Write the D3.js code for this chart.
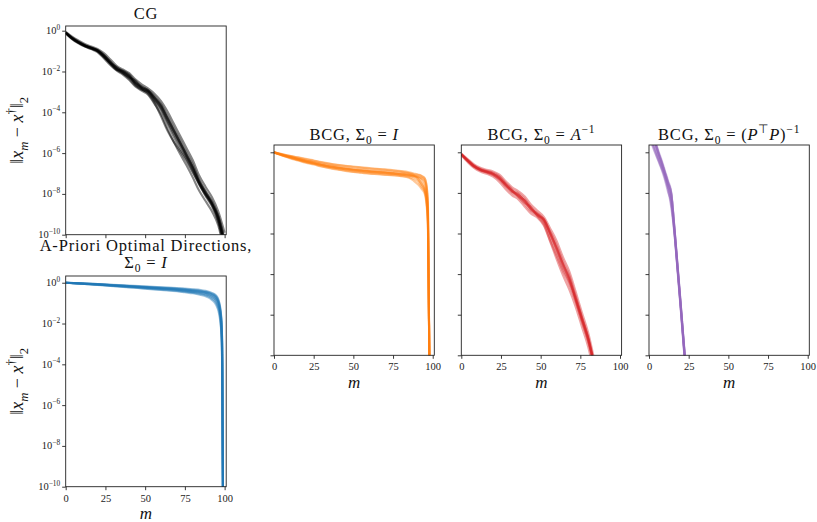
<!DOCTYPE html>
<html>
<head>
<meta charset="utf-8">
<script src="https://cdn.jsdelivr.net/npm/d3@7"></script>
<style>
  body { margin: 0; background: #fff; }
  svg { display: block; }
</style>
</head>
<body>
<svg id="chart" width="817" height="522"></svg>
<script>
// values are log10 of the error norm
const xTicks = [0, 25, 50, 75, 100];
const yTickExp = [0, -2, -4, -6, -8, -10];

const mCG = [0, 4, 8, 12, 16, 20, 24, 28, 32, 36, 40, 44, 48, 52, 56, 60, 64, 68, 72, 76, 80, 84, 88, 92, 96, 100];
const cgRuns = [
  [-0.10,-0.36,-0.56,-0.72,-0.84,-0.97,-1.22,-1.55,-1.84,-2.00,-2.22,-2.58,-2.80,-2.96,-3.30,-3.70,-4.30,-4.90,-5.50,-6.10,-6.70,-7.40,-7.95,-8.45,-9.15,-10.4],
  [-0.12,-0.40,-0.60,-0.76,-0.88,-1.02,-1.30,-1.62,-1.92,-2.10,-2.35,-2.70,-2.90,-3.05,-3.45,-3.90,-4.55,-5.20,-5.80,-6.30,-6.90,-7.55,-8.05,-8.55,-9.30,-10.6],
  [-0.08,-0.33,-0.53,-0.70,-0.82,-0.94,-1.18,-1.50,-1.80,-1.96,-2.15,-2.50,-2.74,-2.92,-3.22,-3.60,-4.15,-4.75,-5.35,-5.95,-6.55,-7.30,-7.85,-8.35,-9.05,-10.2],
  [-0.10,-0.38,-0.58,-0.74,-0.86,-1.00,-1.28,-1.58,-1.78,-2.05,-2.30,-2.45,-2.85,-3.10,-3.55,-4.20,-4.90,-5.45,-5.90,-6.40,-6.95,-7.50,-8.10,-8.60,-9.40,-10.8],
  [-0.11,-0.37,-0.57,-0.73,-0.85,-0.98,-1.25,-1.58,-1.88,-2.02,-2.25,-2.62,-2.82,-2.98,-3.35,-3.75,-4.35,-4.95,-5.55,-6.15,-6.75,-7.45,-8.00,-8.50,-9.20,-10.5],
  [-0.09,-0.35,-0.55,-0.71,-0.83,-0.96,-1.20,-1.52,-1.86,-2.08,-2.28,-2.55,-2.76,-2.94,-3.28,-3.65,-4.25,-4.85,-5.45,-6.05,-6.65,-7.35,-7.90,-8.40,-9.10,-10.3],
  [-0.13,-0.41,-0.62,-0.78,-0.90,-1.05,-1.35,-1.68,-1.95,-2.15,-2.42,-2.75,-2.95,-3.15,-3.60,-4.10,-4.80,-5.45,-6.05,-6.60,-7.20,-7.85,-8.35,-8.85,-9.55,-10.9],
  [-0.06,-0.29,-0.48,-0.65,-0.77,-0.89,-1.10,-1.40,-1.72,-1.90,-2.08,-2.40,-2.64,-2.84,-3.10,-3.45,-3.95,-4.55,-5.15,-5.75,-6.35,-7.10,-7.65,-8.15,-8.85,-9.9],
  [-0.10,-0.37,-0.58,-0.75,-0.87,-0.99,-1.24,-1.60,-1.90,-1.98,-2.20,-2.64,-2.88,-3.00,-3.40,-3.82,-4.45,-5.05,-5.62,-6.20,-6.80,-7.48,-8.02,-8.48,-9.25,-10.5]
];

const mAOD = [0, 10, 20, 30, 40, 50, 60, 70, 75, 80, 85, 88, 90, 92, 94, 95, 96, 97, 98, 98.5, 99];
const aodRuns = [
  [0.00,-0.04,-0.08,-0.13,-0.18,-0.23,-0.28,-0.33,-0.37,-0.41,-0.46,-0.50,-0.55,-0.62,-0.72,-0.82,-0.98,-1.30,-2.00,-3.50,-11],
  [0.00,-0.03,-0.06,-0.10,-0.14,-0.18,-0.22,-0.26,-0.29,-0.32,-0.36,-0.40,-0.44,-0.50,-0.58,-0.66,-0.80,-1.10,-1.80,-3.00,-11],
  [0.00,-0.05,-0.10,-0.16,-0.22,-0.28,-0.34,-0.40,-0.44,-0.49,-0.56,-0.62,-0.68,-0.78,-0.92,-1.05,-1.25,-1.60,-2.40,-4.00,-11],
  [0.00,-0.04,-0.09,-0.14,-0.20,-0.25,-0.31,-0.37,-0.41,-0.46,-0.52,-0.57,-0.62,-0.70,-0.82,-0.95,-1.15,-1.50,-2.60,-4.50,-11],
  [0.00,-0.04,-0.07,-0.11,-0.16,-0.21,-0.25,-0.30,-0.33,-0.37,-0.42,-0.46,-0.50,-0.56,-0.65,-0.74,-0.90,-1.20,-1.90,-3.20,-11],
  [0.00,-0.05,-0.09,-0.15,-0.19,-0.24,-0.29,-0.35,-0.39,-0.44,-0.49,-0.54,-0.60,-0.68,-0.80,-0.90,-1.08,-1.40,-2.20,-3.80,-11],
  [0.00,-0.03,-0.07,-0.12,-0.16,-0.20,-0.24,-0.28,-0.31,-0.35,-0.39,-0.43,-0.47,-0.53,-0.62,-0.70,-0.85,-1.15,-1.85,-3.10,-11],
  [0.00,-0.05,-0.11,-0.17,-0.23,-0.29,-0.36,-0.42,-0.47,-0.52,-0.60,-0.66,-0.73,-0.84,-1.00,-1.15,-1.35,-1.75,-2.60,-4.20,-11],
  [0.00,-0.04,-0.08,-0.12,-0.17,-0.22,-0.27,-0.32,-0.35,-0.39,-0.44,-0.48,-0.52,-0.59,-0.68,-0.78,-0.94,-1.25,-1.95,-3.40,-11]
];

const mBI = [0, 5, 10, 15, 20, 25, 30, 35, 40, 45, 50, 55, 60, 65, 70, 75, 80, 85, 88, 91, 93, 95, 96, 97, 98];
const bcgIRuns = [
  [0.00,-0.12,-0.22,-0.32,-0.42,-0.50,-0.60,-0.68,-0.74,-0.80,-0.85,-0.88,-0.92,-0.95,-0.98,-1.02,-1.06,-1.10,-1.15,-1.20,-1.30,-1.50,-1.90,-3.00,-11],
  [0.00,-0.10,-0.18,-0.26,-0.34,-0.42,-0.50,-0.57,-0.63,-0.68,-0.72,-0.76,-0.80,-0.83,-0.86,-0.90,-0.95,-1.02,-1.08,-1.12,-1.18,-1.30,-1.60,-2.60,-11],
  [-0.02,-0.15,-0.27,-0.38,-0.49,-0.58,-0.68,-0.76,-0.83,-0.90,-0.95,-0.99,-1.03,-1.06,-1.09,-1.12,-1.16,-1.22,-1.30,-1.45,-1.70,-1.95,-2.40,-3.50,-11],
  [0.00,-0.11,-0.20,-0.30,-0.40,-0.48,-0.57,-0.64,-0.70,-0.76,-0.81,-0.84,-0.88,-0.91,-0.94,-0.97,-1.00,-1.05,-1.12,-1.25,-1.40,-1.75,-2.10,-3.20,-11],
  [-0.01,-0.13,-0.24,-0.35,-0.45,-0.54,-0.64,-0.72,-0.78,-0.84,-0.89,-0.93,-0.97,-1.00,-1.03,-1.06,-1.10,-1.15,-1.18,-1.22,-1.26,-1.40,-1.70,-2.80,-11],
  [0.00,-0.12,-0.23,-0.33,-0.43,-0.52,-0.61,-0.69,-0.75,-0.81,-0.86,-0.90,-0.94,-0.97,-1.00,-1.04,-1.08,-1.12,-1.16,-1.32,-1.55,-1.85,-2.20,-3.40,-11],
  [0.00,-0.09,-0.17,-0.25,-0.32,-0.40,-0.48,-0.55,-0.61,-0.66,-0.70,-0.74,-0.78,-0.81,-0.84,-0.88,-0.92,-0.98,-1.04,-1.10,-1.16,-1.28,-1.55,-2.50,-11],
  [-0.02,-0.16,-0.29,-0.40,-0.51,-0.60,-0.70,-0.78,-0.85,-0.92,-0.97,-1.01,-1.05,-1.08,-1.11,-1.14,-1.18,-1.25,-1.40,-1.60,-1.80,-2.05,-2.50,-3.80,-11],
  [-0.01,-0.14,-0.25,-0.36,-0.46,-0.55,-0.63,-0.71,-0.77,-0.82,-0.87,-0.91,-0.95,-0.98,-1.01,-1.05,-1.09,-1.14,-1.20,-1.35,-1.60,-1.90,-2.30,-3.60,-11]
];

const mBA = [0, 4, 8, 12, 16, 20, 24, 28, 32, 36, 40, 44, 48, 52, 56, 60, 64, 68, 72, 76, 80, 84];
const bcgARuns = [
  [-0.10,-0.40,-0.68,-0.85,-0.95,-1.05,-1.25,-1.60,-1.90,-2.10,-2.40,-2.80,-3.05,-3.35,-4.00,-4.70,-5.50,-6.20,-7.20,-8.20,-9.20,-10.6],
  [-0.12,-0.44,-0.72,-0.90,-1.00,-1.12,-1.35,-1.70,-2.00,-2.20,-2.55,-2.90,-3.10,-3.45,-4.20,-4.95,-5.75,-6.40,-7.30,-8.30,-9.35,-10.7],
  [-0.08,-0.37,-0.64,-0.81,-0.91,-1.00,-1.18,-1.52,-1.82,-2.02,-2.30,-2.72,-3.00,-3.30,-3.90,-4.55,-5.35,-6.05,-7.05,-8.10,-9.10,-10.5],
  [-0.10,-0.42,-0.70,-0.87,-0.97,-1.08,-1.30,-1.65,-1.88,-2.18,-2.50,-2.70,-3.15,-3.55,-4.35,-5.10,-5.85,-6.50,-7.35,-8.35,-9.30,-10.6],
  [-0.11,-0.39,-0.66,-0.84,-0.94,-1.04,-1.22,-1.58,-1.95,-2.12,-2.38,-2.85,-3.08,-3.38,-4.05,-4.80,-5.60,-6.25,-7.15,-8.15,-9.15,-10.5],
  [-0.09,-0.41,-0.69,-0.86,-0.96,-1.06,-1.28,-1.62,-1.92,-2.06,-2.45,-2.78,-3.02,-3.32,-3.95,-4.65,-5.45,-6.15,-7.25,-8.25,-9.25,-10.6],
  [-0.14,-0.48,-0.77,-0.95,-1.06,-1.20,-1.46,-1.82,-2.12,-2.32,-2.68,-3.02,-3.22,-3.60,-4.40,-5.25,-6.05,-6.75,-7.60,-8.60,-9.60,-11.0],
  [-0.06,-0.33,-0.59,-0.76,-0.86,-0.94,-1.10,-1.42,-1.72,-1.92,-2.18,-2.58,-2.88,-3.18,-3.75,-4.35,-5.15,-5.85,-6.85,-7.90,-8.90,-10.3],
  [-0.10,-0.40,-0.67,-0.86,-0.98,-1.10,-1.32,-1.55,-1.85,-2.20,-2.35,-2.75,-3.12,-3.28,-3.98,-4.75,-5.52,-6.30,-7.18,-8.18,-9.18,-10.5]
];

const mBP = [0, 2, 4, 6, 8, 10, 12, 14, 16, 18, 20, 22, 24];
const bcgPRuns = [
  [1.50,0.90,0.45,-0.05,-0.50,-1.00,-1.50,-2.00,-3.70,-5.60,-7.50,-9.50,-11.4],
  [1.20,0.60,0.20,-0.25,-0.70,-1.20,-1.70,-2.10,-3.80,-5.70,-7.60,-9.60,-11.5],
  [1.60,1.00,0.55,0.05,-0.40,-0.90,-1.40,-1.95,-3.65,-5.55,-7.45,-9.40,-11.3],
  [1.00,0.45,0.00,-0.40,-0.80,-1.25,-1.85,-2.70,-4.00,-5.80,-7.70,-9.70,-11.6],
  [1.40,0.85,0.40,-0.10,-0.55,-1.05,-1.60,-2.40,-3.90,-5.75,-7.65,-9.55,-11.5],
  [1.55,0.95,0.48,-0.02,-0.48,-0.98,-1.48,-2.02,-3.75,-5.65,-7.55,-9.50,-11.4],
  [1.10,0.50,0.10,-0.35,-0.75,-1.15,-1.75,-2.55,-3.95,-5.85,-7.75,-9.75,-11.7],
  [1.45,0.88,0.42,-0.08,-0.52,-1.02,-1.52,-2.05,-3.72,-5.62,-7.52,-9.52,-11.4],
  [0.90,0.35,-0.05,-0.45,-0.85,-1.35,-1.95,-2.45,-3.85,-5.72,-7.62,-9.62,-11.5]
];

const FONT = "'Liberation Serif', 'Times New Roman', serif";
const svg = d3.select("#chart");

// text with math bits: parts are [text, kind], kind may hold 'it', 'sub', 'sup'
function rich(sel, parts, size) {
  let shift = 0;
  parts.forEach(([txt, kind = ""]) => {
    const target = kind.includes("sub") ? size * 0.25 : kind.includes("sup") ? -size * 0.42 : 0;
    const ts = sel.append("tspan").text(txt).attr("dy", target - shift);
    shift = target;
    if (kind.includes("sub") || kind.includes("sup")) ts.attr("font-size", size * 0.7);
    if (kind.includes("it")) ts.attr("font-style", "italic");
  });
}

const yLabelParts = [["‖"], ["x", "it"], ["m", "sub it"], [" − "], ["x", "it"], ["†", "sup"], ["‖"], ["2", "sub"]];

const panels = [
  { m: mCG, runs: cgRuns, color: "#000000", op: 0.48, left: 65.7, top: 26, w: 160.5, h: 208.7, yTop: 0.23,
    titles: [[[["CG"]], 6.7]], yLabels: true, xLabels: false },
  { m: mAOD, runs: aodRuns, color: "#1f77b4", op: 0.42, left: 65.7, top: 276, w: 160.5, h: 210.7, yTop: 0.33,
    titles: [[[["A-Priori Optimal Directions,"]], 25.5], [[["Σ"], ["0", "sub"], [" = "], ["I", "it"]], 8.5]], yLabels: true, xLabels: true },
  { m: mBI, runs: bcgIRuns, color: "#ff7f0e", op: 0.42, left: 274, top: 145, w: 160.3, h: 210.3, yTop: 0.36,
    titles: [[[["BCG, Σ"], ["0", "sub"], [" = "], ["I", "it"]], 5]], yLabels: false, xLabels: true },
  { m: mBA, runs: bcgARuns, color: "#d62728", op: 0.42, left: 461.3, top: 145, w: 160.3, h: 210.3, yTop: 0.36,
    titles: [[[["BCG, Σ"], ["0", "sub"], [" = "], ["A", "it"], ["−1", "sup"]], 5]], yLabels: false, xLabels: true },
  { m: mBP, runs: bcgPRuns, color: "#9467bd", op: 0.42, left: 649, top: 145, w: 160.3, h: 210.3, yTop: 0.36,
    titles: [[[["BCG, Σ"], ["0", "sub"], [" = ("], ["P", "it"], ["⊤", "sup"], ["P", "it"], [")"], ["−1", "sup"]], 5]], yLabels: false, xLabels: true }
];

panels.forEach((p, i) => {
  const x = d3.scaleLinear().domain([0, 101]).range([p.left, p.left + p.w]);
  const y = d3.scaleLog().domain([1e-10, Math.pow(10, p.yTop)]).range([p.top + p.h, p.top]);
  const g = svg.append("g");

  g.append("clipPath").attr("id", "clip" + i).append("rect")
    .attr("x", p.left).attr("y", p.top).attr("width", p.w).attr("height", p.h);

  const line = d3.line()
    .x((d, k) => x(p.m[k]))
    .y(d => y(Math.pow(10, d)))
    .curve(d3.curveMonotoneX);

  g.append("g").attr("clip-path", `url(#clip${i})`)
    .selectAll("path").data(p.runs).enter().append("path")
    .attr("d", line)
    .attr("fill", "none")
    .attr("stroke", p.color)
    .attr("stroke-opacity", p.op)
    .attr("stroke-width", 2.1)
    .attr("stroke-linejoin", "round");

  // frame
  g.append("rect").attr("x", p.left).attr("y", p.top).attr("width", p.w).attr("height", p.h)
    .attr("fill", "none").attr("stroke", "#222").attr("stroke-width", 0.9);

  // x axis
  const xa = g.append("g").attr("transform", `translate(0,${p.top + p.h})`)
    .call(d3.axisBottom(x).tickValues(xTicks).tickSize(3.5).tickPadding(4)
      .tickFormat(p.xLabels ? d3.format("d") : ""));
  xa.select(".domain").remove();
  xa.selectAll("line").attr("stroke", "#222").attr("stroke-width", 0.9);
  xa.selectAll("text").attr("font-family", FONT).attr("font-size", 10.5).attr("fill", "#222");

  // y axis
  const ya = g.append("g").attr("transform", `translate(${p.left},0)`)
    .call(d3.axisLeft(y).tickValues(yTickExp.map(e => Math.pow(10, e))).tickSize(3.5).tickFormat(""));
  ya.select(".domain").remove();
  ya.selectAll("line").attr("stroke", "#222").attr("stroke-width", 0.9);

  if (p.yLabels) {
    yTickExp.forEach(e => {
      const t = g.append("text").attr("x", p.left - 5.5).attr("y", y(Math.pow(10, e)) + 3.5)
        .attr("text-anchor", "end").attr("font-family", FONT).attr("font-size", 10.5).attr("fill", "#222");
      rich(t, [["10"], [e === 0 ? "0" : "−" + (-e), "sup"]], 10.5);
    });
    const cy = p.top + p.h / 2;
    const yl = g.append("text").attr("transform", `translate(23,${cy}) rotate(-90)`)
      .attr("text-anchor", "middle").attr("font-family", FONT).attr("font-size", 18).attr("fill", "#111");
    rich(yl, yLabelParts, 18);
  }

  if (p.xLabels) {
    g.append("text").attr("x", p.left + p.w / 2).attr("y", p.top + p.h + 32.5)
      .attr("text-anchor", "middle").attr("font-family", FONT).attr("font-size", 17)
      .attr("font-style", "italic").attr("fill", "#111").text("m");
  }

  p.titles.forEach(([parts, off]) => {
    const t = g.append("text").attr("x", p.left + p.w / 2).attr("y", p.top - off)
      .attr("text-anchor", "middle").attr("font-family", FONT).attr("font-size", 16.5)
      .attr("letter-spacing", 0.8).attr("fill", "#111");
    rich(t, parts, 16.5);
  });
});
</script>
</body>
</html>
